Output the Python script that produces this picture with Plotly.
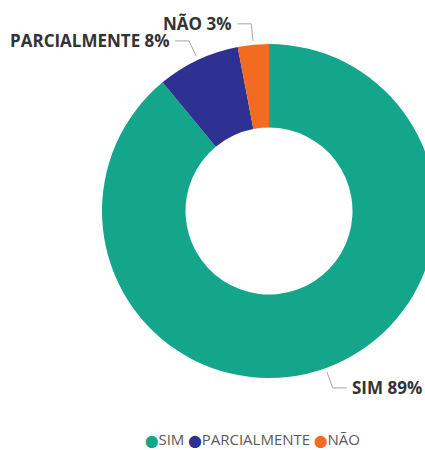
import math
import plotly.graph_objects as go

# ---- data ----
categories = ["SIM", "PARCIALMENTE", "NÃO"]
values = [89, 8, 3]
colors = ["#14A68A", "#2E3192", "#F26B21"]

# ---- layout geometry (pixels) ----
W, H = 450, 450
CX, CY, R = 269, 211, 167
HOLE = 0.5

def px(x):
    return x / W

def py(y):
    return 1 - y / H

fig = go.Figure(
    go.Pie(
        labels=categories,
        values=values,
        marker=dict(colors=colors, line=dict(width=0)),
        hole=HOLE,
        sort=False,
        direction="clockwise",
        rotation=0,
        textinfo="none",
        hoverinfo="label+percent",
        showlegend=False,
        domain=dict(x=[px(CX - R), px(CX + R)], y=[py(CY + R), py(CY - R)]),
    )
)

# leader lines + labels computed from slice angles
total = sum(values)
cum = 0
shapes = []
annotations = []
for cat, v in zip(categories, values):
    mid = (cum + v / 2) / total * 2 * math.pi
    cum += v
    dx, dy = math.sin(mid), -math.cos(mid)
    x0, y0 = CX + (R + 4) * dx, CY + (R + 4) * dy
    x1, y1 = CX + (R + 21) * dx, CY + (R + 21) * dy
    side = 1 if dx >= 0 else -1
    x2 = x1 + side * 14
    path = f"M {px(x0)} {py(y0)} L {px(x1)} {py(y1)} L {px(x2)} {py(y1)}"
    shapes.append(dict(type="path", xref="paper", yref="paper", path=path,
                       line=dict(color="#A6A6A6", width=1)))
    pct = round(v / total * 100)
    annotations.append(dict(
        x=px(x2 + side * 3), y=py(y1), xref="paper", yref="paper",
        text=f"<b>{cat} {pct}%</b>", showarrow=False,
        xanchor="left" if side > 0 else "right", yanchor="middle",
        font=dict(family="Open Sans", size=17, color="#333333"),
    ))

# custom compact legend
legend_text = " ".join(
    f"<span style='color:{c};font-size:12px'>⬤</span>{cat}" for cat, c in zip(categories, colors)
)
annotations.append(dict(
    x=px(252), y=py(439), xref="paper", yref="paper",
    text=legend_text, showarrow=False, xanchor="center", yanchor="middle",
    font=dict(family="Open Sans, DejaVu Sans", size=15, color="#595959"),
))

fig.update_layout(
    width=W, height=H,
    margin=dict(l=0, r=0, t=0, b=0),
    paper_bgcolor="white",
    plot_bgcolor="white",
    shapes=shapes,
    annotations=annotations,
    showlegend=False,
)

fig.write_html(
    "out.html",
    config={"displayModeBar": False},
    post_script="document.body.style.margin='0';document.body.style.overflow='hidden';",
)
